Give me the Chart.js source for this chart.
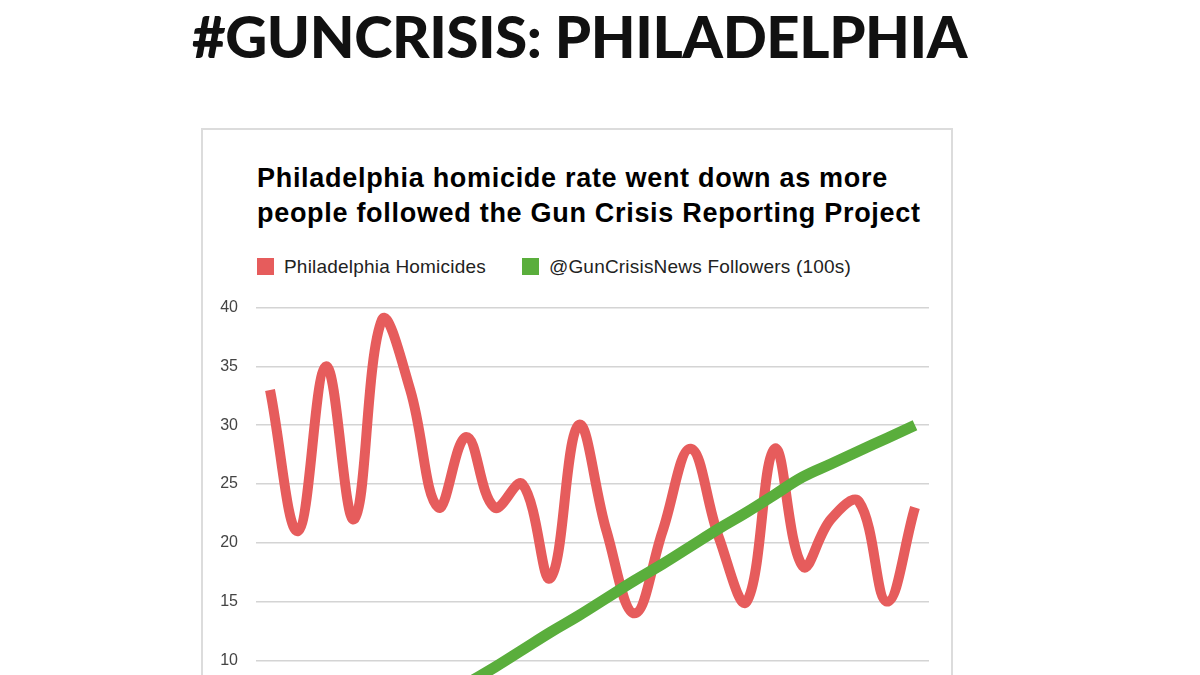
<!DOCTYPE html>
<html lang="en">
<head>
<meta charset="utf-8">
<title>#GUNCRISIS: PHILADELPHIA</title>
<script src="https://cdn.jsdelivr.net/npm/chart.js@4"></script>
<style>
  html, body { margin: 0; padding: 0; background: #fff; }
  body { width: 1200px; height: 675px; overflow: hidden; position: relative; }
  .page-title {
    position: absolute; left: 192px; top: 4px;
    font-family: Lato, "Open Sans", sans-serif; font-weight: 900;
    font-size: 58px; line-height: 64px; letter-spacing: -0.4px; color: #111; white-space: nowrap;
  }
  .card {
    position: absolute; left: 201px; top: 128px; width: 752px; height: 720px;
    border: 2px solid #dcdcdc; box-sizing: border-box;
  }
  .chart-title {
    position: absolute; left: 257px; top: 161px;
    font-family: "Liberation Sans", Arial, sans-serif; font-weight: bold;
    font-size: 27px; line-height: 35px; letter-spacing: 0.7px; color: #000; white-space: nowrap;
  }
  .legend {
    position: absolute; left: 257px; top: 257px; height: 19px;
    display: flex; align-items: center;
    font-family: "Liberation Sans", Arial, sans-serif; font-size: 19px; letter-spacing: 0.2px; color: #222;
  }
  .legend span.item { display: flex; align-items: center; margin-right: 36px; white-space: nowrap; }
  .legend span.box { width: 17px; height: 17px; margin-right: 10px; display: inline-block; }
  .plot { position: absolute; left: 203px; top: 280px; width: 740px; height: 540px; }
</style>
</head>
<body>
  <div class="page-title">#GUNCRISIS: PHILADELPHIA</div>
  <div class="card"></div>
  <div class="chart-title">Philadelphia homicide rate went down as more<br>people followed the Gun Crisis Reporting Project</div>
  <div class="legend" id="legend"></div>
  <div class="plot"><canvas id="chart"></canvas></div>

<script>
// ── Data ──────────────────────────────────────
const periods = ['1', '2', '3', '4', '5', '6', '7', '8', '9', '10', '11', '12',
                 '13', '14', '15', '16', '17', '18', '19', '20', '21', '22', '23', '24'];
const homicides = [33, 21, 35, 22, 39, 33, 23, 29, 23, 25, 17, 30,
                   21, 14, 21, 28, 20.5, 15, 28, 18, 22, 23.5, 15, 23];
const followers = [0, 0, 0.7, 2.2, 3.6, 5.1, 6.5, 8.0, 9.4, 10.9, 12.4, 13.8,
                   15.3, 16.8, 18.2, 19.7, 21.2, 22.6, 24.1, 25.6, 26.7, 27.8, 28.9, 30.0];
const yTicks = [0, 5, 10, 15, 20, 25, 30, 35, 40];

const RED = '#e65c5c';
const GREEN = '#5aae3c';

// ── Chart ─────────────────────────────────────
const ctx = document.getElementById('chart').getContext('2d');
const chart = new Chart(ctx, {
  type: 'line',
  data: {
    labels: periods,
    datasets: [
      {
        label: 'Philadelphia Homicides',
        data: homicides,
        borderColor: RED,
        backgroundColor: RED,
        borderWidth: 10,
        tension: 0.4,
        pointRadius: 0,
        borderCapStyle: 'butt',
        borderJoinStyle: 'round',
        order: 1
      },
      {
        label: '@GunCrisisNews Followers (100s)',
        data: followers,
        borderColor: GREEN,
        backgroundColor: GREEN,
        borderWidth: 11,
        tension: 0.4,
        pointRadius: 0,
        borderCapStyle: 'butt',
        borderJoinStyle: 'round',
        order: 0
      }
    ]
  },
  options: {
    responsive: true,
    maintainAspectRatio: false,
    animation: false,
    layout: { padding: { top: 24, right: 14, bottom: 42, left: 0 } },
    plugins: {
      legend: { display: false },
      tooltip: { enabled: false }
    },
    scales: {
      x: {
        display: false,
        offset: true,
        grid: { display: false }
      },
      y: {
        min: yTicks[0],
        max: yTicks[yTicks.length - 1],
        afterFit: axis => { axis.width = 53; },
        afterBuildTicks: axis => { axis.ticks = yTicks.map(v => ({ value: v })); },
        border: { display: false },
        grid: { color: '#d4d4d4', lineWidth: 1.5, drawTicks: false },
        ticks: {
          padding: 18,
          color: '#444',
          font: { family: '"Liberation Sans", Arial, sans-serif', size: 16 }
        }
      }
    }
  }
});

// ── HTML legend ───────────────────────────────
const legend = document.getElementById('legend');
chart.data.datasets.forEach(ds => {
  legend.innerHTML += `<span class="item"><span class="box" style="background:${ds.borderColor}"></span>${ds.label}</span>`;
});
</script>
</body>
</html>
